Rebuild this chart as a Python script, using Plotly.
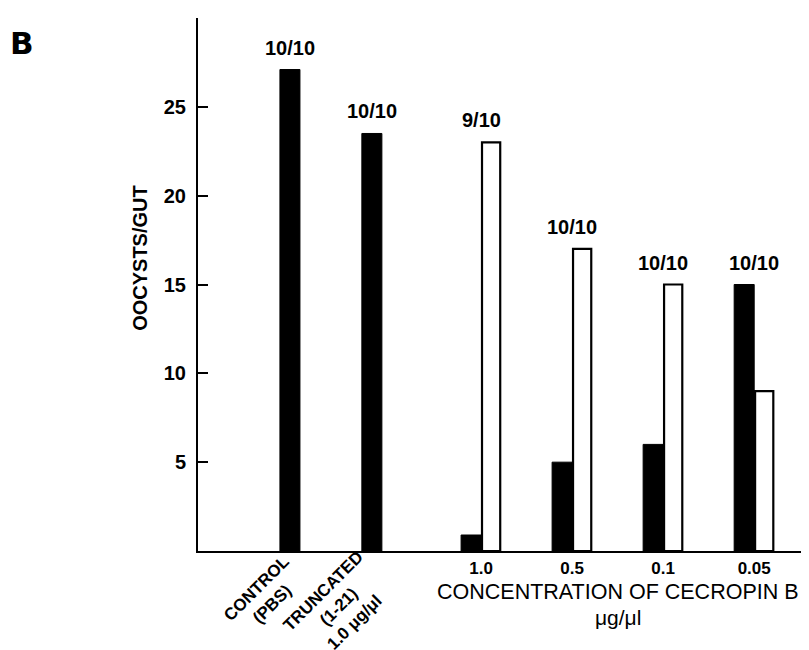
import plotly.graph_objects as go

# ---------------- data ----------------
single_categories = ["CONTROL<br>(PBS)", "TRUNCATED<br>(1-21)<br>1.0 μg/μl"]
single_values = [27.1, 23.5]
single_labels = ["10/10", "10/10"]

concentrations = ["1.0", "0.5", "0.1", "0.05"]
solid_values = [0.9, 5.0, 6.0, 15.0]
open_values = [23.0, 17.0, 15.0, 9.0]
conc_labels = ["9/10", "10/10", "10/10", "10/10"]

y_ticks = [5, 10, 15, 20, 25]
y_title = "OOCYSTS/GUT"
x_title = "CONCENTRATION OF CECROPIN B"
x_unit = "μg/μl"
panel = "B"

# ---------------- layout constants ----------------
W, H = 809, 650
ML, MR, MT, MB = 190, 0, 10, 107
single_pos = [1.0, 1.9]
conc_pos = [3.1, 4.1, 5.1, 6.1]
BW = 0.22
XR = [-0.01, 6.79]
YR = [0, 30]

SANS = "Liberation Sans, Arial, Helvetica, sans-serif"

fig = go.Figure()

fig.add_trace(go.Bar(
    x=single_pos, y=single_values, width=BW,
    marker=dict(color="black", line=dict(color="black", width=1)),
    hoverinfo="skip", showlegend=False))

fig.add_trace(go.Bar(
    x=conc_pos, y=solid_values, width=BW, offset=-BW,
    marker=dict(color="black", line=dict(color="black", width=1)),
    hoverinfo="skip", showlegend=False))

fig.add_trace(go.Bar(
    x=conc_pos, y=open_values, width=BW - 0.02, offset=0.01,
    marker=dict(color="white", line=dict(color="black", width=2.2)),
    hoverinfo="skip", showlegend=False))

ann = []
label_font = dict(family=SANS, size=20, color="black", weight="bold")
for xp, v, t in zip(single_pos, single_values, single_labels):
    ann.append(dict(x=xp, y=v, xref="x", yref="y", text=t, showarrow=False,
                    xanchor="center", yanchor="bottom", yshift=9, font=label_font))
for xp, a, b, t in zip(conc_pos, solid_values, open_values, conc_labels):
    ann.append(dict(x=xp, y=max(a, b), xref="x", yref="y", text=t, showarrow=False,
                    xanchor="center", yanchor="bottom", yshift=9, font=label_font))

# rotated category labels for control / truncated
rot_shift = [(-26, -45), (-33, -55)]
for xp, t, (dx, dy) in zip(single_pos, single_categories, rot_shift):
    ann.append(dict(x=xp, y=0, xref="x", yref="y", text=t, showarrow=False,
                    textangle=-45, xanchor="center", yanchor="middle",
                    xshift=dx, yshift=dy,
                    font=dict(family=SANS, size=17, color="black", weight="bold")))

# x title, centred on the concentration groups
xc = sum(conc_pos) / len(conc_pos)
ann.append(dict(x=xc, y=0, xref="x", yref="y", text=x_title, showarrow=False,
                xanchor="center", yanchor="middle", yshift=-41,
                font=dict(family=SANS, size=21.5, color="black")))
ann.append(dict(x=xc, y=0, xref="x", yref="y", text=x_unit, showarrow=False,
                xanchor="center", yanchor="middle", yshift=-66,
                font=dict(family=SANS, size=21, color="black")))

# y title
ann.append(dict(x=0, y=0.55, xref="paper", yref="paper", text=y_title,
                showarrow=False, textangle=-90, xanchor="center", yanchor="middle",
                xshift=-58, font=dict(family=SANS, size=20, color="black", weight="bold")))

# panel letter
ann.append(dict(x=0, y=1, xref="paper", yref="paper", text=panel,
                showarrow=False, xanchor="center", yanchor="middle",
                xshift=-176, yshift=-25,
                font=dict(family="DejaVu Sans, sans-serif", size=31, color="black",
                          weight="bold")))

fig.update_layout(
    width=W, height=H,
    margin=dict(l=ML, r=MR, t=MT, b=MB, pad=0),
    paper_bgcolor="white", plot_bgcolor="white",
    barmode="overlay",
    annotations=ann,
    xaxis=dict(range=XR, showgrid=False, zeroline=False,
               showline=True, linecolor="black", linewidth=2,
               ticks="", tickvals=conc_pos, ticktext=concentrations,
               ticklabelstandoff=1,
               tickfont=dict(family=SANS, size=17, color="black", weight="bold")),
    yaxis=dict(range=YR, showgrid=False, zeroline=False,
               showline=True, linecolor="black", linewidth=2,
               ticks="inside", ticklen=10, tickwidth=2, tickcolor="black",
               tickvals=y_ticks, ticklabelstandoff=6,
               tickfont=dict(family=SANS, size=20, color="black", weight="bold")),
)

fig.write_html("out.html")
